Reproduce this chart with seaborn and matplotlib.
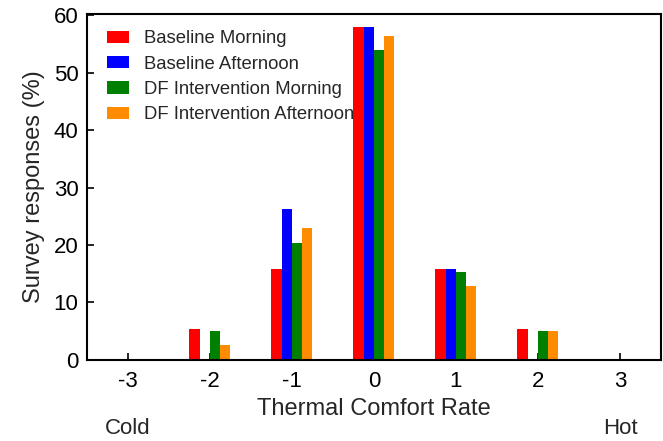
import pandas as pd
import matplotlib.pyplot as plt
import matplotlib.transforms as mtransforms
import seaborn as sns

# Thermal comfort vote categories
ratings = ["-3", "-2", "-1", "0", "1", "2", "3"]

# Survey responses (%) per group
baseline_morning = [0, 5.3, 15.8, 57.9, 15.8, 5.3, 0]
baseline_afternoon = [0, 0, 26.3, 57.9, 15.8, 0, 0]
df_morning = [0, 5.1, 20.4, 53.9, 15.3, 5.1, 0]
df_afternoon = [0, 2.6, 23.0, 56.4, 12.8, 5.1, 0]

groups = ["Baseline Morning", "Baseline Afternoon",
          "DF Intervention Morning", "DF Intervention Afternoon"]
colors = ["#ff0000", "#0000ff", "#008000", "#ff8c00"]

# Long-form table for seaborn
rows = []
for name, vals in zip(groups, [baseline_morning, baseline_afternoon, df_morning, df_afternoon]):
    for r, v in zip(ratings, vals):
        rows.append({"Rating": r, "Group": name, "Value": v})
data = pd.DataFrame(rows)

sns.set_style("white")
plt.rcParams["font.family"] = ["Liberation Sans", "DejaVu Sans"]

fig = plt.figure(figsize=(6.63, 4.41), dpi=100)
ax = fig.add_axes([0.131, 0.184, 0.866, 0.784])

sns.barplot(data=data, x="Rating", y="Value", hue="Group", order=ratings,
            hue_order=groups, palette=colors, saturation=1, width=0.5,
            errorbar=None, linewidth=0, ax=ax)

ax.set_xlim(-0.5, 6.5)
ax.set_ylim(0, 60.2)
ax.set_yticks(range(0, 61, 10))
ax.tick_params(direction="in", length=5, width=1.2, labelsize=16,
               colors="black", bottom=True, left=True, top=False, right=False)
ax.tick_params(axis="x", pad=8)
ax.tick_params(axis="y", pad=6)
for sp in ax.spines.values():
    sp.set_linewidth(1.5)
    sp.set_color("black")

ax.set_xlabel("Thermal Comfort Rate", fontsize=17, labelpad=4)
ax.set_ylabel("Survey responses (%)", fontsize=17, labelpad=6)

# Cold / Hot end labels under the outer ticks
trans = mtransforms.blended_transform_factory(ax.transData, ax.transAxes)
ax.text(0, -0.198, "Cold", transform=trans, ha="center", va="center", fontsize=16)
ax.text(6, -0.198, "Hot", transform=trans, ha="center", va="center", fontsize=16)

ax.legend(loc="upper left", frameon=False, fontsize=13.3, handlelength=1.2,
          handleheight=0.65, handletextpad=0.8, labelspacing=0.45,
          borderaxespad=0.3, bbox_to_anchor=(0.012, 0.99))

fig.savefig("out.png", dpi=100)
